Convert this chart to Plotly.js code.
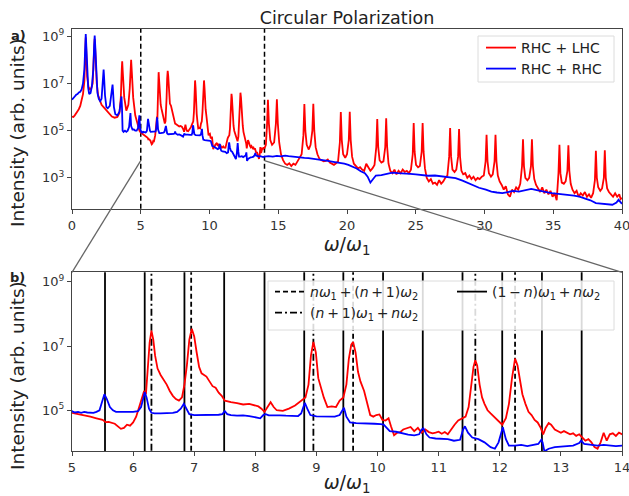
<!DOCTYPE html>
<html><head><meta charset="utf-8">
<script src="https://cdn.plot.ly/plotly-3.0.1.min.js"></script>
<style>html,body{margin:0;padding:0;background:#fff}#chart{width:629px;height:496px}</style>
</head><body><div id="chart"></div>
<script>
// ---- Data (intensity stored as log10 values) ----
const redX = [
0.00,0.10,0.20,0.30,0.40,0.50,0.60,0.70,0.80,0.90,0.97,1.00,1.03,1.10,1.20,1.30,1.40,1.50,1.60,1.65,1.70,1.80,1.90,2.00,2.15,2.30,2.50,2.70,2.90,3.10,3.30,3.45,3.55,3.62,3.65,3.70,3.80,3.95,4.10,4.20,4.27,4.30,4.35,4.45,4.60,4.75,4.90,
5.00,5.10,5.20,5.30,5.40,5.50,5.55,5.60,5.70,5.75,5.80,5.85,5.90,5.95,6.00,6.05,6.10,6.15,6.18,6.21,6.24,6.27,6.30,6.33,6.36,6.40,6.45,6.50,6.55,6.60,6.65,6.70,6.75,6.80,6.84,6.88,6.92,6.96,7.00,7.04,7.08,7.12,7.20,7.25,7.30,7.35,7.40,7.45,7.50,7.55,7.60,7.70,7.80,7.90,8.00,8.05,8.10,8.15,8.20,8.25,8.30,8.35,8.45,8.55,8.65,8.75,8.82,8.87,8.91,8.95,8.99,9.03,9.07,9.12,9.18,9.25,9.32,9.38,9.44,9.49,9.53,9.57,9.60,9.64,9.68,9.72,9.78,9.83,9.88,9.93,9.98,
10.03,10.08,10.13,10.18,10.22,10.27,10.32,10.37,10.42,10.48,10.54,10.60,10.66,10.72,10.78,10.84,10.90,10.95,11.00,11.05,11.10,11.15,11.20,11.26,11.32,11.38,11.44,11.49,11.53,11.57,11.60,11.63,11.67,11.71,11.75,11.80,11.85,11.90,11.95,12.00,12.04,12.10,12.15,12.20,12.25,12.29,12.33,12.37,12.42,12.47,12.52,12.57,12.62,12.67,12.71,12.75,12.80,12.84,12.90,12.95,13.00,13.05,13.10,13.15,13.20,13.25,13.30,13.35,13.40,13.45,13.50,13.55,13.60,13.65,13.70,13.75,13.80,13.85,13.90,13.95,
14.00,14.10,14.18,14.25,14.32,14.42,14.55,14.70,14.83,14.90,14.97,15.07,15.20,15.35,15.50,15.65,15.80,15.95,16.10,16.25,16.40,16.55,16.70,16.83,16.90,16.97,17.07,17.22,17.35,17.48,17.55,17.62,17.72,17.85,18.00,18.15,18.30,18.45,18.60,18.75,18.90,19.05,19.20,19.35,19.48,19.55,19.62,19.72,19.87,20.00,20.13,20.20,20.27,20.37,20.50,20.65,20.80,20.95,21.10,21.25,21.40,21.55,21.70,21.85,22.00,22.13,22.20,22.27,22.37,22.50,22.65,22.78,22.85,22.92,23.02,23.15,23.30,23.45,23.60,23.75,23.90,24.05,24.20,24.35,24.50,24.65,24.78,24.85,24.92,25.02,25.17,25.30,25.43,25.50,25.57,25.67,25.80,25.95,26.10,26.25,26.40,26.55,26.70,26.85,27.00,27.15,27.30,27.43,27.50,27.57,27.67,27.82,27.95,28.08,28.15,28.22,28.32,28.45,28.60,28.75,28.90,29.05,29.20,29.35,29.50,29.65,29.80,29.95,
30.08,30.15,30.22,30.32,30.47,30.60,30.73,30.80,30.87,30.97,31.10,31.25,31.40,31.55,31.70,31.85,32.00,32.15,32.30,32.45,32.60,32.73,32.80,32.87,32.97,33.12,33.25,33.38,33.45,33.52,33.62,33.75,33.90,34.05,34.20,34.35,34.50,34.65,34.80,34.95,35.10,35.25,35.38,35.45,35.52,35.62,35.77,35.90,36.03,36.10,36.17,36.27,36.40,36.55,36.70,36.85,37.00,37.15,37.30,37.45,37.60,37.75,37.90,38.03,38.10,38.17,38.27,38.42,38.55,38.68,38.75,38.82,38.92,39.05,39.20,39.35,39.50,39.65,39.80,39.90,40.00
];
const redLog10 = [
5.60,5.58,5.65,5.72,5.82,5.92,6.05,6.30,6.55,7.10,8.50,8.95,8.50,7.30,6.85,6.75,6.80,7.00,8.30,8.90,8.30,7.00,6.50,6.35,6.10,6.00,5.85,5.70,5.60,5.55,5.58,5.75,6.40,7.60,7.94,7.40,6.40,5.85,6.10,6.80,7.70,8.00,7.50,6.40,5.65,5.30,5.00,
4.92,4.88,4.85,4.80,4.75,4.70,4.63,4.64,4.58,4.50,4.42,4.45,4.55,4.52,4.62,4.80,5.10,5.45,5.60,5.50,6.20,7.10,7.48,7.20,6.70,6.30,6.10,5.95,5.80,5.60,5.45,5.35,5.30,5.40,5.80,6.40,7.20,7.54,7.30,6.80,6.35,6.15,6.05,5.90,5.75,5.70,5.55,5.45,5.30,5.28,5.25,5.22,5.18,5.20,5.16,5.12,5.05,4.95,5.10,5.25,5.10,5.00,4.98,5.05,5.15,5.30,5.40,5.80,6.70,7.13,6.80,6.00,5.70,5.40,5.10,5.12,5.10,5.30,5.40,5.80,6.60,7.05,7.13,6.80,6.20,5.90,5.60,5.25,4.85,4.80,4.85,
4.87,4.70,4.68,4.75,4.50,4.22,4.30,4.32,4.40,4.45,4.48,4.35,4.45,4.30,4.40,4.32,4.28,4.30,4.33,4.27,4.32,4.25,4.40,4.55,4.68,4.75,4.80,5.10,5.70,6.35,6.56,6.40,5.80,5.40,5.20,5.00,4.90,4.80,4.70,4.60,4.55,4.75,5.20,6.00,6.61,6.40,5.90,5.50,5.20,4.95,4.85,4.70,4.62,4.45,4.25,4.45,4.60,4.55,4.40,4.35,4.30,4.35,4.30,4.25,4.28,4.20,4.25,4.15,4.05,4.10,4.00,3.85,3.80,4.00,4.30,4.05,4.25,4.28,4.20,4.30,
4.25,4.40,5.20,6.31,5.30,4.60,4.40,4.50,5.30,6.33,5.30,4.50,4.00,3.75,3.60,3.55,3.62,3.50,3.60,3.55,3.70,3.85,4.00,4.80,6.13,5.00,4.40,4.20,4.40,5.00,6.14,5.00,4.30,4.00,3.80,3.75,3.70,3.72,3.78,3.65,3.60,3.55,3.62,3.70,4.50,5.79,4.60,4.00,3.85,4.00,4.60,5.80,4.60,3.90,3.60,3.50,3.40,3.45,3.35,3.30,3.60,3.45,3.30,3.40,3.55,4.30,5.49,4.30,3.75,3.65,3.70,4.30,5.53,4.30,3.60,3.30,3.20,3.35,3.15,3.30,3.20,3.35,3.25,3.30,3.20,3.35,4.00,5.32,4.10,3.55,3.45,3.50,4.10,5.32,4.10,3.40,3.00,2.85,2.95,2.75,2.80,2.70,2.90,2.75,2.85,3.00,3.10,3.90,5.11,3.90,3.35,3.25,3.35,3.90,5.07,3.90,3.30,3.15,3.20,3.00,3.10,2.95,3.05,2.90,3.00,2.95,3.05,3.10,
3.70,4.83,3.70,3.20,3.05,3.15,3.70,4.83,3.70,3.10,2.85,2.70,2.50,2.65,2.30,2.20,2.50,2.40,2.60,2.50,2.75,3.50,4.64,3.50,3.00,2.90,3.00,3.50,4.64,3.50,2.95,2.70,2.55,2.40,2.60,2.35,2.50,2.30,2.45,2.20,2.35,2.05,3.20,4.40,3.20,2.80,2.75,2.85,3.30,4.38,3.30,2.75,2.50,2.35,2.45,2.20,2.35,2.25,2.40,2.20,2.30,2.15,2.35,2.90,4.15,3.00,2.60,2.45,2.55,3.00,4.17,3.00,2.55,2.40,2.30,2.20,2.35,2.20,2.30,2.10,2.15
];
const blueX = [
0.00,0.10,0.20,0.30,0.40,0.50,0.60,0.70,0.80,0.90,0.96,1.00,1.04,1.10,1.18,1.25,1.35,1.45,1.55,1.61,1.65,1.69,1.75,1.85,1.95,2.05,2.15,2.22,2.27,2.30,2.33,2.40,2.50,2.60,2.75,2.87,2.92,2.95,2.98,3.05,3.15,3.30,3.45,3.55,3.60,3.64,3.68,3.75,3.85,3.95,4.05,4.15,4.22,4.25,4.30,4.40,4.50,4.60,4.70,4.80,4.87,4.90,4.95,
5.00,5.05,5.10,5.15,5.20,5.25,5.30,5.35,5.40,5.45,5.49,5.53,5.57,5.62,5.67,5.72,5.80,5.90,6.00,6.08,6.13,6.17,6.19,6.22,6.26,6.30,6.35,6.45,6.55,6.65,6.72,6.78,6.83,6.87,6.92,7.00,7.10,7.20,7.30,7.40,7.46,7.50,7.54,7.60,7.70,7.80,7.90,8.00,8.08,8.13,8.17,8.22,8.30,8.40,8.50,8.60,8.70,8.75,8.79,8.81,8.85,8.90,9.00,9.10,9.20,9.30,9.38,9.42,9.45,9.49,9.55,9.65,9.75,9.85,9.95,
10.05,10.10,10.15,10.20,10.30,10.40,10.50,10.60,10.68,10.72,10.75,10.80,10.85,10.95,11.05,11.15,11.25,11.35,11.40,11.43,11.48,11.55,11.65,11.75,11.85,11.92,11.98,12.03,12.05,12.10,12.15,12.25,12.35,12.45,12.55,12.63,12.68,12.70,12.73,12.80,12.90,13.00,13.10,13.20,13.30,13.33,13.38,13.50,13.60,13.70,13.80,13.90,
14.00,14.30,14.60,14.90,15.20,15.50,15.75,16.00,16.30,16.60,16.90,17.20,17.50,17.80,18.20,18.60,19.00,19.40,19.80,20.10,20.40,20.70,21.00,21.30,21.50,21.70,21.90,22.10,22.50,22.90,23.30,23.70,24.20,24.60,25.00,25.50,25.90,26.40,27.10,27.50,27.90,28.40,28.80,29.20,29.60,30.10,30.50,30.90,31.30,31.70,32.10,32.50,33.00,33.40,33.80,34.20,34.60,34.90,35.30,35.70,36.10,36.50,36.90,37.30,37.70,38.10,38.50,38.90,39.30,39.60,39.75,40.00
];
const blueLog10 = [
6.31,6.40,6.45,6.52,6.55,6.62,6.65,6.75,7.00,7.60,8.60,9.10,8.60,7.50,6.80,6.55,6.60,6.90,7.60,8.60,9.03,8.60,7.50,6.60,6.35,6.25,6.35,6.90,7.40,7.59,7.30,6.50,6.00,5.95,6.05,6.50,6.85,6.95,6.70,6.00,5.70,5.65,5.80,6.20,6.45,5.90,5.00,4.95,5.00,4.95,5.00,5.15,5.60,5.75,5.20,5.05,5.05,5.00,5.00,5.10,5.50,5.65,5.10,
4.97,4.93,4.95,4.92,4.95,4.93,4.92,4.92,4.95,5.00,5.25,5.50,5.35,5.10,5.00,4.95,4.95,4.94,4.95,4.97,5.10,5.40,5.57,5.40,5.05,4.92,4.90,4.90,4.90,4.92,4.95,5.05,5.20,5.05,4.88,4.85,4.85,4.84,4.85,4.86,4.88,4.97,4.88,4.85,4.83,4.84,4.82,4.78,4.75,4.85,4.88,4.84,4.83,4.84,4.83,4.82,4.82,4.90,5.15,5.23,5.05,4.85,4.81,4.81,4.80,4.80,4.85,5.00,5.08,4.80,4.62,4.60,4.60,4.59,4.58,
4.57,4.55,4.45,4.35,4.33,4.28,4.24,4.22,4.25,4.40,4.44,4.25,4.15,4.12,4.12,4.10,4.05,4.08,4.40,4.50,4.30,4.15,4.10,4.00,3.85,3.80,4.00,4.40,4.47,4.10,3.90,3.90,3.92,3.88,3.92,3.95,4.08,4.00,3.72,3.80,3.85,3.87,3.88,3.90,3.98,4.05,3.95,3.92,3.90,3.92,3.90,3.88,
3.90,3.92,3.90,3.93,3.91,3.94,3.92,3.90,3.88,3.86,3.85,3.84,3.82,3.80,3.76,3.72,3.68,3.65,3.60,3.55,3.48,3.40,3.28,3.20,3.05,2.80,2.95,3.10,3.12,3.18,3.22,3.20,3.20,3.17,3.15,3.12,3.09,3.10,3.06,3.02,2.99,2.88,2.78,2.68,2.58,2.50,2.42,2.38,2.35,2.40,2.45,2.42,2.48,2.53,2.48,2.42,2.38,2.35,2.33,2.30,2.28,2.25,2.20,2.14,2.05,1.93,1.90,1.88,1.86,1.95,2.07,1.90
];
const seriesNames = ['RHC + LHC', 'RHC + RHC'];
const zoomWindow = [5, 14];
const solidLinesX = [5.54, 6.19, 6.84, 7.49, 8.15, 8.80, 9.44, 10.09, 10.74, 11.39, 12.04, 12.69, 13.34];
const dashedLinesX = [6.95, 9.60, 12.25];
const dashDotLinesX = [6.30, 8.95, 11.60];
const lineLabels = [
  '<i>n</i><i>ω</i><sub>1</sub>\u2009+\u2009(<i>n</i>\u2009+\u20091)<i>ω</i><sub>2</sub>',
  '(1\u2009−\u2009<i>n</i>)<i>ω</i><sub>1</sub>\u2009+\u2009<i>n</i><i>ω</i><sub>2</sub>',
  '(<i>n</i>\u2009+\u20091)<i>ω</i><sub>1</sub>\u2009+\u2009<i>n</i><i>ω</i><sub>2</sub>'
];
const topXTicks = [0, 5, 10, 15, 20, 25, 30, 35, 40];
const botXTicks = [5, 6, 7, 8, 9, 10, 11, 12, 13, 14];
const topYTickExp = [3, 5, 7, 9];
const botYTickExp = [5, 7, 9];

// ---- Geometry / styles ----
const W = 629, H = 496, M = {l: 72, r: 7, t: 29, b: 45};
const PW = W - M.l - M.r, PH = H - M.t - M.b;
const px2x = p => (p - M.l) / PW;          // pixel -> paper x
const px2y = p => (H - M.b - p) / PH;      // pixel -> paper y
const TOP_Y_RANGE = [1.68, 9.31];
const BOT_Y_RANGE = [3.73, 9.30];
const TOP_X_RANGE = [0, 40];
const topDomain = [px2y(209), 1];
const botDomain = [0, px2y(272.3)];

const pow10 = v => Math.pow(10, v);
const redY = redLog10.map(pow10);
const blueY = blueLog10.map(pow10);

function vlines(xs) {
  const x = [], y = [];
  xs.forEach(v => { x.push(v, v, null); y.push(1, 1e11, null); });
  return {x, y};
}

const axisStyle = {
  showline: true, linecolor: '#444', linewidth: 1, mirror: true,
  ticks: 'outside', ticklen: 4, tickwidth: 1, tickcolor: '#444',
  showgrid: false, zeroline: false, ticklabeloverflow: 'allow',
  tickfont: {size: 13, color: '#333'}
};
const xTitle = {text: '<i>ω</i>/<i>ω</i><sub>1</sub>', font: {size: 19, color: '#222'}, standoff: 3};

const zv = vlines(zoomWindow);
const sv = vlines(solidLinesX), dv = vlines(dashedLinesX), ddv = vlines(dashDotLinesX);

const traces = [
  {x: zv.x, y: zv.y, xaxis: 'x', yaxis: 'y', mode: 'lines', line: {color: '#000', width: 1.5, dash: '5px,3px'}, showlegend: false, hoverinfo: 'skip'},
  {x: redX, y: redY, xaxis: 'x', yaxis: 'y', mode: 'lines', name: seriesNames[0], line: {color: '#ff0000', width: 1.8}, legend: 'legend'},
  {x: blueX, y: blueY, xaxis: 'x', yaxis: 'y', mode: 'lines', name: seriesNames[1], line: {color: '#0000ff', width: 1.8}, legend: 'legend2'},
  {x: dv.x, y: dv.y, xaxis: 'x2', yaxis: 'y2', mode: 'lines', name: lineLabels[0], line: {color: '#000', width: 1.8, dash: '5px,3px'}, legend: 'legend3', hoverinfo: 'skip'},
  {x: sv.x, y: sv.y, xaxis: 'x2', yaxis: 'y2', mode: 'lines', name: lineLabels[1], line: {color: '#000', width: 1.8}, legend: 'legend4', hoverinfo: 'skip'},
  {x: ddv.x, y: ddv.y, xaxis: 'x2', yaxis: 'y2', mode: 'lines', name: lineLabels[2], line: {color: '#000', width: 1.8, dash: '7px,3px,2px,3px'}, legend: 'legend5', hoverinfo: 'skip'},
  {x: redX, y: redY, xaxis: 'x2', yaxis: 'y2', mode: 'lines', line: {color: '#ff0000', width: 1.8}, showlegend: false},
  {x: blueX, y: blueY, xaxis: 'x2', yaxis: 'y2', mode: 'lines', line: {color: '#0000ff', width: 1.8}, showlegend: false}
];

// connector lines from the zoom window in panel a) to panel b) corners
const yFracTop = (BOT_Y_RANGE[0] - TOP_Y_RANGE[0]) / (TOP_Y_RANGE[1] - TOP_Y_RANGE[0]);
const connY0 = topDomain[0] + yFracTop * (topDomain[1] - topDomain[0]);
const xFrac = v => (v - TOP_X_RANGE[0]) / (TOP_X_RANGE[1] - TOP_X_RANGE[0]);
const shapes = [
  {type: 'line', xref: 'paper', yref: 'paper', x0: xFrac(zoomWindow[0]), y0: connY0, x1: 0, y1: botDomain[1], line: {color: '#666', width: 1.3}},
  {type: 'line', xref: 'paper', yref: 'paper', x0: xFrac(zoomWindow[1]), y0: connY0, x1: 1, y1: botDomain[1], line: {color: '#666', width: 1.3}},
  // legend frames
  {type: 'rect', xref: 'paper', yref: 'paper', layer: 'above', x0: px2x(478), x1: px2x(614), y0: px2y(82), y1: px2y(36),
   fillcolor: 'rgba(255,255,255,0.85)', line: {color: '#dcdcdc', width: 1}},
  {type: 'rect', xref: 'paper', yref: 'paper', layer: 'above', x0: px2x(268), x1: px2x(614), y0: px2y(330), y1: px2y(281),
   fillcolor: 'rgba(255,255,255,0.85)', line: {color: '#dcdcdc', width: 1}}
];

function legendAt(lineStartPx, rowCenterPx) {
  return {x: px2x(lineStartPx - 5), xanchor: 'left', y: px2y(rowCenterPx), yanchor: 'middle',
    bgcolor: 'rgba(0,0,0,0)', borderwidth: 0, font: {size: 14, color: '#222'}};
}

const yLabelFont = {size: 18.5, color: '#222'};
const layout = {
  width: W, height: H, margin: M,
  paper_bgcolor: '#fff', plot_bgcolor: '#fff',
  font: {family: 'DejaVu Sans, sans-serif', size: 13, color: '#222'},
  title: {text: 'Circular Polarization', x: 0.5, xref: 'paper', xanchor: 'center', y: 1 - 18 / H, yref: 'container', yanchor: 'middle', font: {size: 17.5, color: '#222'}},
  xaxis: Object.assign({}, axisStyle, {domain: [0, 1], anchor: 'y', range: TOP_X_RANGE, tickvals: topXTicks, title: xTitle}),
  yaxis: Object.assign({}, axisStyle, {domain: topDomain, anchor: 'x', type: 'log', range: TOP_Y_RANGE,
    tickvals: topYTickExp.map(pow10), ticktext: topYTickExp.map(e => '10<sup>' + e + '</sup>')}),
  xaxis2: Object.assign({}, axisStyle, {domain: [0, 1], anchor: 'y2', range: zoomWindow, tickvals: botXTicks, title: xTitle}),
  yaxis2: Object.assign({}, axisStyle, {domain: botDomain, anchor: 'x2', type: 'log', range: BOT_Y_RANGE,
    tickvals: botYTickExp.map(pow10), ticktext: botYTickExp.map(e => '10<sup>' + e + '</sup>')}),
  legend: legendAt(486, 48),
  legend2: legendAt(486, 69),
  legend3: legendAt(275, 292),
  legend4: legendAt(457, 292),
  legend5: legendAt(275, 313),
  annotations: [
    {text: 'Intensity (arb. units)', textangle: -90, xref: 'paper', yref: 'paper', x: px2x(17), y: px2y(133), xanchor: 'center', yanchor: 'middle', showarrow: false, font: yLabelFont},
    {text: 'Intensity (arb. units)', textangle: -90, xref: 'paper', yref: 'paper', x: px2x(17), y: px2y(376), xanchor: 'center', yanchor: 'middle', showarrow: false, font: yLabelFont},
    {text: '<b>a)</b>', xref: 'paper', yref: 'paper', x: px2x(18), y: px2y(35), xanchor: 'center', yanchor: 'middle', showarrow: false, font: {size: 13, color: '#222'}},
    {text: '<b>b)</b>', xref: 'paper', yref: 'paper', x: px2x(17), y: px2y(277), xanchor: 'center', yanchor: 'middle', showarrow: false, font: {size: 13, color: '#222'}}
  ],
  shapes: shapes,
  showlegend: true
};

Plotly.newPlot('chart', traces, layout, {displayModeBar: false, staticPlot: true});
</script>
</body></html>
